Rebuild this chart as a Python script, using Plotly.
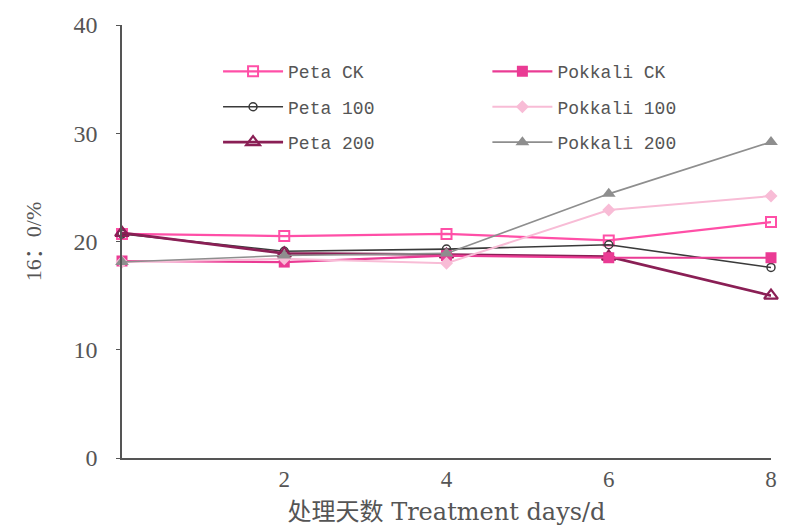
import plotly.graph_objects as go

days = [0, 2, 4, 6, 8]
peta_ck = [20.7, 20.5, 20.7, 20.1, 21.8]
peta_100 = [20.7, 19.1, 19.3, 19.7, 17.6]
peta_200 = [20.8, 18.9, 18.8, 18.6, 15.0]
pokkali_ck = [18.2, 18.1, 18.7, 18.5, 18.5]
pokkali_100 = [18.1, 18.4, 18.0, 22.9, 24.2]
pokkali_200 = [18.1, 18.7, 18.9, 24.4, 29.2]

y_ticks = [0, 10, 20, 30, 40]
x_ticks = [2, 4, 6, 8]

FONT = "Liberation Serif, Noto Sans CJK SC, serif"
TFONT = "DejaVu Serif, Noto Sans CJK SC, serif"
LFONT = "Liberation Mono, monospace"

series = [
    ("Peta CK", peta_ck, "#ff4fa7", dict(symbol="square-open", size=10, line=dict(width=2)), 2.2, "legend"),
    ("Peta 100", peta_100, "#3a3a3a", dict(symbol="circle-open", size=8, line=dict(width=1.5)), 1.6, "legend"),
    ("Peta 200", peta_200, "#8a1f55", dict(symbol="triangle-up-open", size=12, line=dict(width=2.2)), 2.6, "legend"),
    ("Pokkali CK", pokkali_ck, "#ea3b94", dict(symbol="square", size=11), 2.2, "legend2"),
    ("Pokkali 100", pokkali_100, "#f8bcd6", dict(symbol="diamond", size=10), 2.0, "legend2"),
    ("Pokkali 200", pokkali_200, "#8e8e8e", dict(symbol="triangle-up", size=12), 1.6, "legend2"),
]

fig = go.Figure()
for i, (name, vals, color, mk, lw, lg) in enumerate(series):
    mk = dict(mk)
    mk["color"] = color
    if "line" in mk:
        mk["line"]["color"] = color
    fig.add_trace(go.Scatter(
        x=days, y=vals, name=name, mode="lines+markers",
        line=dict(color=color, width=lw), marker=mk,
        legend=lg, legendgroup=name, cliponaxis=False,
    ))

legend_common = dict(
    font=dict(family=LFONT, size=18, color="#555555"),
    bgcolor="rgba(0,0,0,0)", tracegroupgap=9, itemwidth=60,
    xanchor="left", yanchor="top", orientation="v",
)

fig.update_layout(
    width=797, height=529,
    paper_bgcolor="white", plot_bgcolor="white",
    margin=dict(l=114, r=34, t=17, b=79, autoexpand=False),
    font=dict(family=FONT, size=24, color="#555555"),
    showlegend=True,
    legend=dict(x=0.148, y=0.935, **legend_common),
    legend2=dict(x=0.563, y=0.935, **legend_common),
    xaxis=dict(
        range=[0, 8], tickvals=x_ticks, ticktext=[str(v) for v in x_ticks],
        showline=True, linecolor="#555555", linewidth=1.5,
        showgrid=False, zeroline=False, ticks="", automargin=False,
        tickfont=dict(size=23),
        title=dict(text="处理天数 Treatment days/d", standoff=12,
                   font=dict(family=TFONT, size=24, color="#555555")),
    ),
    yaxis=dict(
        range=[0, 40], tickvals=y_ticks, automargin=False,
        showline=True, linecolor="#555555", linewidth=1.5,
        showgrid=False, zeroline=False, ticks="outside", ticklen=4,
        tickcolor="#555555", ticklabelstandoff=14,
        tickfont=dict(size=24),
        title=dict(text="16：0/%", standoff=26,
                   font=dict(family=FONT, size=22, color="#555555")),
    ),
)

fig.write_html("out.html")
